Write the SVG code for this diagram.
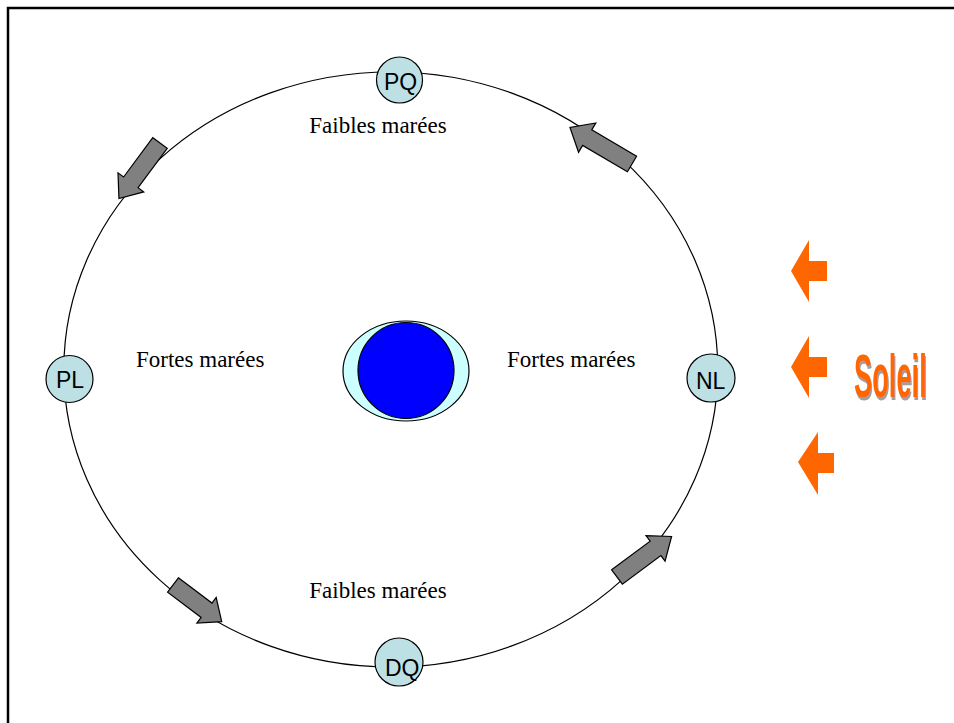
<svg xmlns="http://www.w3.org/2000/svg" width="954" height="723" viewBox="0 0 954 723">
<defs>
<filter id="shadow" x="-10%" y="-10%" width="130%" height="130%">
<feFlood flood-color="#A0A0A0" result="c"/>
<feComposite in="c" in2="SourceAlpha" operator="in" result="s"/>
<feOffset in="s" dx="1.4" dy="3" result="o"/>
<feMerge><feMergeNode in="o"/><feMergeNode in="SourceGraphic"/></feMerge>
</filter>
</defs>
<style>
.lbl{font-family:"Liberation Serif","Times New Roman",serif;font-size:23px;fill:#000}
.nd{fill:#BCE0E4;stroke:#000;stroke-width:1.2}
.nt{font-family:"Liberation Sans",Arial,sans-serif;font-size:23px;fill:#000}
.ga{fill:#808080;stroke:#000;stroke-width:1.2;stroke-linejoin:miter}
.oa{fill:#FF6600}
.sol{font-family:"Liberation Sans",Arial,sans-serif;font-weight:bold;font-size:62px;fill:#FF6600}
</style>
<rect x="0" y="0" width="954" height="723" fill="#fff"/>
<path d="M8,723 V8 H954" fill="none" stroke="#000" stroke-width="2.5"/>
<g id="orbit">
<ellipse cx="390.8" cy="369.5" rx="327" ry="297.5" fill="none" stroke="#000" stroke-width="1.2"/>
</g>
<g id="earth">
<ellipse cx="406" cy="371" rx="63" ry="50" fill="#CCFFFF" stroke="#000" stroke-width="1.2"/>
<circle cx="406" cy="370.5" r="48" fill="#0000FF" stroke="#000" stroke-width="1.2"/>
</g>
<g id="connectors">
<polygon class="ga" transform="translate(632,164) rotate(210.5)" points="0,-9 52,-9 52,-17 72,0 52,17 52,9 0,9"/>
<polygon class="ga" transform="translate(160,143) rotate(126.5)" points="0,-9 49,-9 49,-16 69,0 49,16 49,9 0,9"/>
<polygon class="ga" transform="translate(173,585) rotate(37)" points="0,-9 42,-9 42,-16 61,0 42,16 42,9 0,9"/>
<polygon class="ga" transform="translate(617,577) rotate(-36.6)" points="0,-9 48,-9 48,-16 68,0 48,16 48,9 0,9"/>
</g>
<g id="node-PQ"><circle class="nd" cx="399.5" cy="80" r="23"/><text class="nt" x="384" y="90">PQ</text></g>
<g id="node-DQ"><circle class="nd" cx="399" cy="662" r="24"/><text class="nt" x="385" y="676">DQ</text></g>
<g id="node-PL"><circle class="nd" cx="69.5" cy="379" r="23.5"/><text class="nt" x="56" y="388">PL</text></g>
<g id="node-NL"><circle class="nd" cx="711" cy="378" r="24"/><text class="nt" x="696" y="389">NL</text></g>
<g id="labels">
<text class="lbl" x="378" y="133" text-anchor="middle">Faibles marées</text>
<text class="lbl" x="136" y="367">Fortes marées</text>
<text class="lbl" x="507" y="367">Fortes marées</text>
<text class="lbl" x="378" y="598" text-anchor="middle">Faibles marées</text>
</g>
<g id="sun">
<polygon class="oa" points="791,271 809,240 809,261 827,261 827,281 809,281 809,302"/>
<polygon class="oa" points="791,367 809,336 809,357 827,357 827,377 809,377 809,398"/>
<polygon class="oa" points="798,462 818,432 818,453 834,453 834,473 818,473 818,495"/>
<g filter="url(#shadow)">
<text class="sol" transform="translate(854,397) scale(0.44,1)" x="0" y="0">Soleil</text>
</g>
</g>
</svg>
